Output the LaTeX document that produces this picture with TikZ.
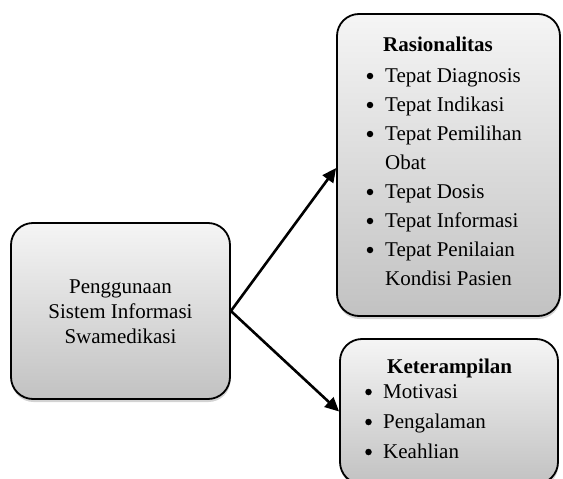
\documentclass[tikz,border=0pt]{standalone}
\usepackage{fontspec}
\setmainfont{Liberation Serif}
\usetikzlibrary{arrows.meta,shadows}
\begin{document}
\begin{tikzpicture}[x=1pt,y=-1pt,
  boxstyle/.style={draw=black, line width=1.8pt, rounded corners=22pt,
    top color=gray!8, bottom color=gray!48,
    drop shadow={shadow xshift=0.5pt, shadow yshift=-3pt, opacity=0.35, fill=gray}},
  txt/.style={anchor=base west, inner sep=0pt, font=\fontsize{21}{25}\selectfont},
  ctxt/.style={anchor=base, inner sep=0pt, font=\fontsize{21}{25}\selectfont},
  dot/.style={circle, fill=black, inner sep=0pt, minimum size=6.5pt},
  conn/.style={line width=2.6pt, -{Triangle[length=14pt,width=13pt]}}]
\useasboundingbox (0,0) rectangle (563,479);

\node[boxstyle, minimum width=219pt, minimum height=176pt] (L) at (120.5,311) {};
\node[boxstyle, minimum width=223pt, minimum height=302pt] (R) at (448.5,165) {};
\node[boxstyle, minimum width=218pt, minimum height=145pt] (K) at (449,411.5) {};

\node[ctxt] (l1) at (120.5,293) {Penggunaan};
\node[ctxt] (l2) at (120.5,318) {Sistem Informasi};
\node[ctxt] (l3) at (120.5,343) {Swamedikasi};

\node[txt, font=\fontsize{21}{25}\selectfont\bfseries] (rh) at (383,52) {Rasionalitas};
\foreach \t [count=\i] in {Tepat Diagnosis, Tepat Indikasi, Tepat Pemilihan, Obat, Tepat Dosis, Tepat Informasi, Tepat Penilaian, Kondisi Pasien} {
  \node[txt] (r\i) at (385,{82+29*(\i-1)}) {\t};
}
\foreach \i in {1,2,3,5,6,7} {
  \node[dot] (rb\i) at (370,{76+29*(\i-1)}) {};
}

\node[txt, font=\fontsize{21}{25}\selectfont\bfseries] (kh) at (387,373) {Keterampilan};
\foreach \t/\y [count=\i] in {Motivasi/398, Pengalaman/428, Keahlian/458} {
  \node[txt] (k\i) at (383,\y) {\t};
  \node[dot] (kb\i) at (368.5,\y-6) {};
}

\draw[conn] (L.east) -- ([yshift=-3pt]R.west);
\draw[conn] (L.east) -- (K.west);
\end{tikzpicture}
\end{document}
